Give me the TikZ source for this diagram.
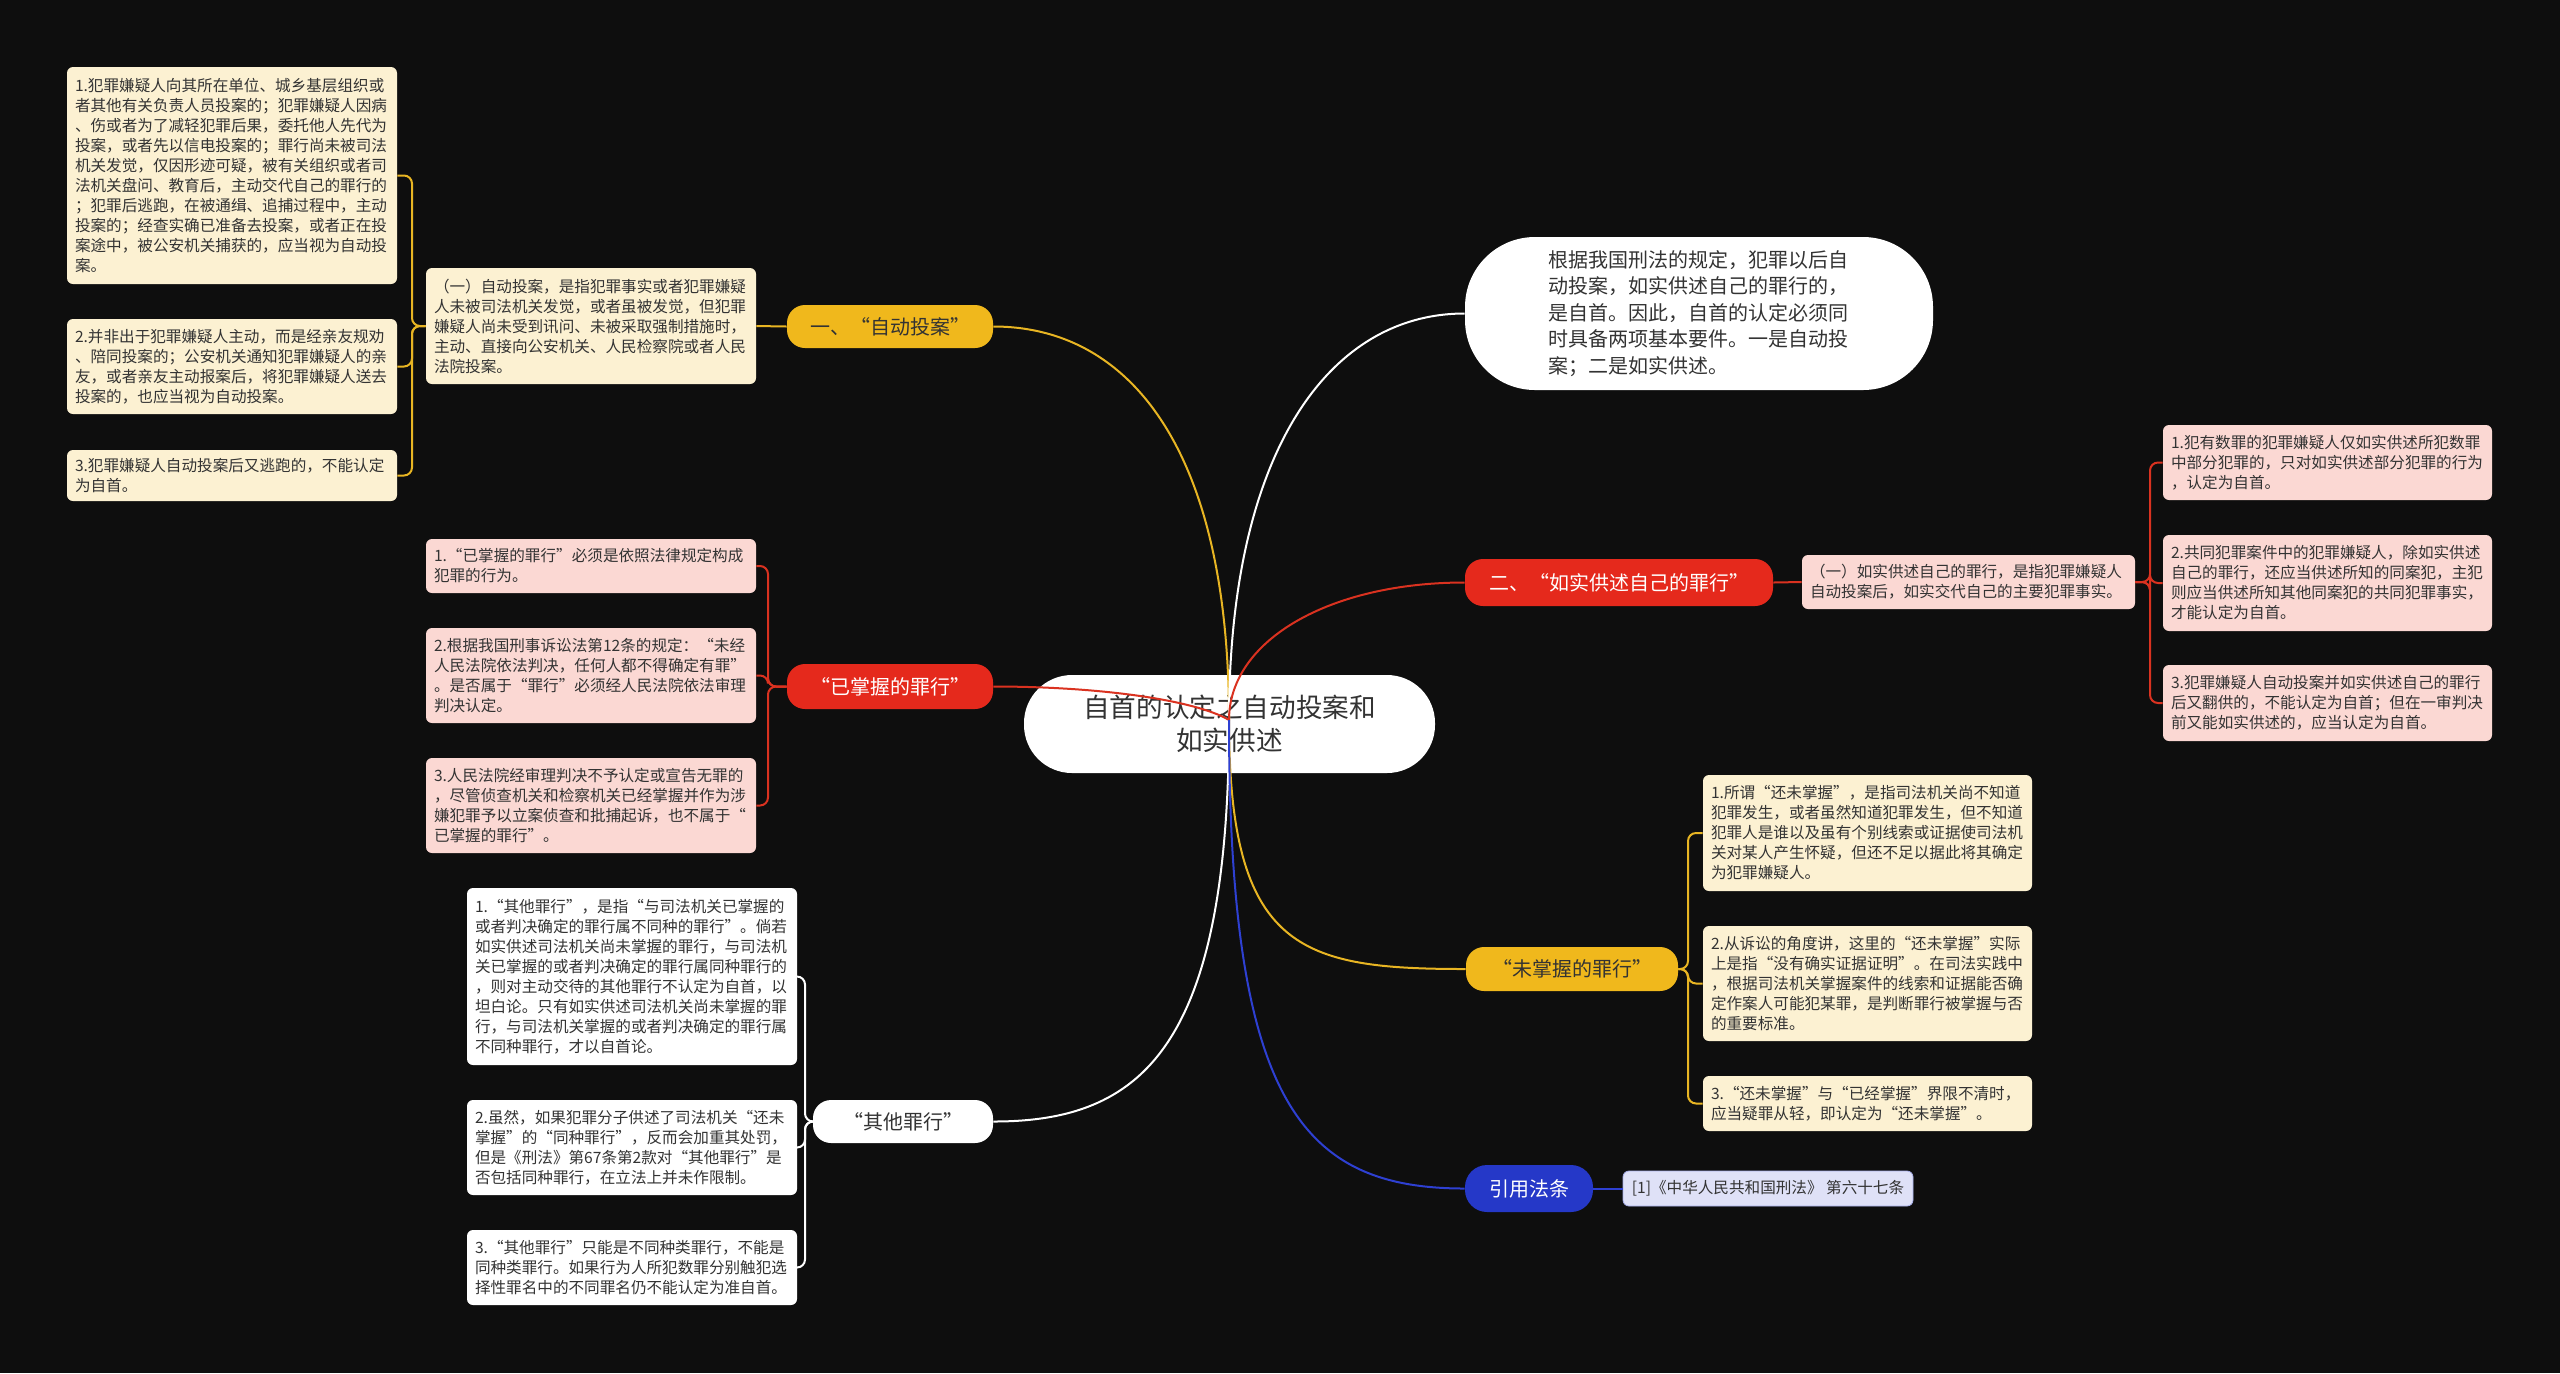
\documentclass[tikz,border=0pt]{standalone}
\usepackage{fontspec}
\setmainfont{Noto Sans CJK SC}
\definecolor{bg}{HTML}{0E0E0E}
\definecolor{cream}{HTML}{FCF1D2}
\definecolor{pinkb}{HTML}{FBD8D3}
\definecolor{lav}{HTML}{DFE1F7}
\definecolor{txt}{HTML}{333333}
\definecolor{ynode}{HTML}{F0B81C}
\definecolor{yline}{HTML}{E8B523}
\definecolor{rnode}{HTML}{E5291C}
\definecolor{rline}{HTML}{DA3220}
\definecolor{bnode}{HTML}{2538C8}
\definecolor{bline}{HTML}{2E40D2}
\newcommand\leaffont{\fontsize{7.8}{10}\selectfont}
\newcommand\branchfont{\fontsize{10}{12}\selectfont}
\begin{document}
\begin{tikzpicture}[x=0.5pt,y=-0.5pt,
  leaf/.style={rounded corners=3pt, align=left, inner xsep=4pt, inner ysep=0pt, font=\leaffont, text=txt, text width=157pt},
  creambox/.style={leaf, fill=cream},
  pinkbox/.style={leaf, fill=pinkb},
  whitebox/.style={leaf, fill=white},
  branch/.style={rounded corners=9pt, inner sep=0pt, font=\branchfont, align=center},
  yl/.style={draw=yline, line width=1pt},
  rl/.style={draw=rline, line width=1pt},
  wl/.style={draw=white, line width=1pt},
  bl/.style={draw=bline, line width=1pt},
  br/.style={rounded corners=4pt}
]
\fill[bg] (0,0) rectangle (2560,1373);

% center
\node[fill=white, rounded corners=24pt, minimum width=205.5pt, minimum height=49pt, align=center, text=txt,
  font=\fontsize{13.3}{16.5}\selectfont] (C) at (1229.5,724) {自首的认定之自动投案和\\如实供述};

% top right note
\node[fill=white, rounded corners=35pt, minimum width=234pt, minimum height=76.5pt, align=left, text width=151pt,
  text=txt, font=\fontsize{10}{13.3}\selectfont] (T) at (1699,313.5)
  {根据我国刑法的规定，犯罪以后自\\动投案，如实供述自己的罪行的，\\是自首。因此，自首的认定必须同\\时具备两项基本要件。一是自动投\\案；二是如实供述。};

% branch nodes
\node[branch, fill=ynode, text=txt, minimum width=103pt, minimum height=21.5pt] (B1) at (890,326.5) {一、“自动投案”};
\node[branch, fill=rnode, text=white, minimum width=103pt, minimum height=22.5pt] (B2) at (890,686.5) {“已掌握的罪行”};
\node[branch, fill=white, text=txt, minimum width=90pt, minimum height=21.5pt] (B3) at (903,1121.5) {“其他罪行”};
\node[branch, fill=rnode, text=white, minimum width=154pt, minimum height=23.5pt] (B4) at (1619,582.5) {二、“如实供述自己的罪行”};
\node[branch, fill=ynode, text=txt, minimum width=106pt, minimum height=22pt] (B5) at (1572,969) {“未掌握的罪行”};
\node[branch, fill=bnode, text=white, minimum width=64pt, minimum height=23.5pt, rounded corners=11pt] (B6) at (1529,1188.5) {引用法条};

% left yellow
\node[creambox, minimum height=108.5pt] (L1) at (232,175.5) {1.犯罪嫌疑人向其所在单位、城乡基层组织或\\者其他有关负责人员投案的；犯罪嫌疑人因病\\、伤或者为了减轻犯罪后果，委托他人先代为\\投案，或者先以信电投案的；罪行尚未被司法\\机关发觉，仅因形迹可疑，被有关组织或者司\\法机关盘问、教育后，主动交代自己的罪行的\\；犯罪后逃跑，在被通缉、追捕过程中，主动\\投案的；经查实确已准备去投案，或者正在投\\案途中，被公安机关捕获的，应当视为自动投\\案。};
\node[creambox, minimum height=47.5pt] (L2) at (232,366.5) {2.并非出于犯罪嫌疑人主动，而是经亲友规劝\\、陪同投案的；公安机关通知犯罪嫌疑人的亲\\友，或者亲友主动报案后，将犯罪嫌疑人送去\\投案的，也应当视为自动投案。};
\node[creambox, minimum height=25.5pt] (L3) at (232,475.5) {3.犯罪嫌疑人自动投案后又逃跑的，不能认定\\为自首。};
\node[creambox, minimum height=58pt] (Y1) at (591,326) {（一）自动投案，是指犯罪事实或者犯罪嫌疑\\人未被司法机关发觉，或者虽被发觉，但犯罪\\嫌疑人尚未受到讯问、未被采取强制措施时，\\主动、直接向公安机关、人民检察院或者人民\\法院投案。};

% left red
\node[pinkbox, minimum height=27pt] (R1) at (591,566) {1.“已掌握的罪行”必须是依照法律规定构成\\犯罪的行为。};
\node[pinkbox, minimum height=47.5pt] (R2) at (591,675.5) {2.根据我国刑事诉讼法第12条的规定：“未经\\人民法院依法判决，任何人都不得确定有罪”\\。是否属于“罪行”必须经人民法院依法审理\\判决认定。};
\node[pinkbox, minimum height=47.5pt] (R3) at (591,805.5) {3.人民法院经审理判决不予认定或宣告无罪的\\，尽管侦查机关和检察机关已经掌握并作为涉\\嫌犯罪予以立案侦查和批捕起诉，也不属于“\\已掌握的罪行”。};

% left white
\node[whitebox, minimum height=88.5pt] (W1) at (632,976.5) {1.“其他罪行”，是指“与司法机关已掌握的\\或者判决确定的罪行属不同种的罪行”。倘若\\如实供述司法机关尚未掌握的罪行，与司法机\\关已掌握的或者判决确定的罪行属同种罪行的\\，则对主动交待的其他罪行不认定为自首，以\\坦白论。只有如实供述司法机关尚未掌握的罪\\行，与司法机关掌握的或者判决确定的罪行属\\不同种罪行，才以自首论。};
\node[whitebox, minimum height=47.5pt] (W2) at (632,1147.5) {2.虽然，如果犯罪分子供述了司法机关“还未\\掌握”的“同种罪行”，反而会加重其处罚，\\但是《刑法》第67条第2款对“其他罪行”是\\否包括同种罪行，在立法上并未作限制。};
\node[whitebox, minimum height=37.5pt] (W3) at (632,1267.5) {3.“其他罪行”只能是不同种类罪行，不能是\\同种类罪行。如果行为人所犯数罪分别触犯选\\择性罪名中的不同罪名仍不能认定为准自首。};

% right red
\node[pinkbox, minimum height=27pt, text width=158.5pt] (P0) at (1968.5,582) {（一）如实供述自己的罪行，是指犯罪嫌疑人\\自动投案后，如实交代自己的主要犯罪事实。};
\node[pinkbox, minimum height=37.5pt, text width=156.5pt] (PR1) at (2327.5,462.5) {1.犯有数罪的犯罪嫌疑人仅如实供述所犯数罪\\中部分犯罪的，只对如实供述部分犯罪的行为\\，认定为自首。};
\node[pinkbox, minimum height=48pt, text width=156.5pt] (PR2) at (2327.5,583) {2.共同犯罪案件中的犯罪嫌疑人，除如实供述\\自己的罪行，还应当供述所知的同案犯，主犯\\则应当供述所知其他同案犯的共同犯罪事实，\\才能认定为自首。};
\node[pinkbox, minimum height=38pt, text width=156.5pt] (PR3) at (2327.5,703) {3.犯罪嫌疑人自动投案并如实供述自己的罪行\\后又翻供的，不能认定为自首；但在一审判决\\前又能如实供述的，应当认定为自首。};

% right yellow
\node[creambox, minimum height=58pt, text width=156.5pt] (C1) at (1867.5,833) {1.所谓“还未掌握”，是指司法机关尚不知道\\犯罪发生，或者虽然知道犯罪发生，但不知道\\犯罪人是谁以及虽有个别线索或证据使司法机\\关对某人产生怀疑，但还不足以据此将其确定\\为犯罪嫌疑人。};
\node[creambox, minimum height=57.5pt, text width=156.5pt] (C2) at (1867.5,983.5) {2.从诉讼的角度讲，这里的“还未掌握”实际\\上是指“没有确实证据证明”。在司法实践中\\，根据司法机关掌握案件的线索和证据能否确\\定作案人可能犯某罪，是判断罪行被掌握与否\\的重要标准。};
\node[creambox, minimum height=27.5pt, text width=156.5pt] (C3) at (1867.5,1103.5) {3.“还未掌握”与“已经掌握”界限不清时，\\应当疑罪从轻，即认定为“还未掌握”。};

% blue leaf
\node[fill=lav, draw=lav!70!bnode, line width=0.4pt, rounded corners=3pt, minimum width=145pt, minimum height=17.5pt,
  inner sep=0pt, font=\leaffont, text=txt] (LV) at (1768,1188.5) {[1]《中华人民共和国刑法》~第六十七条};

% main connectors (drawn over the centre node)
\coordinate (o) at (1229,720);
\draw[yl] (o) .. controls (1229,450) and (1130,326.5) .. (B1.east);
\draw[wl] (o) .. controls (1229,450) and (1330,313.5) .. (T.west);
\draw[rl] (o) .. controls (1229,640) and (1330,582.5) .. (B4.west);
\draw[rl] (o) .. controls (1195,700) and (1100,686.5) .. (B2.east);
\draw[wl] (o) .. controls (1229,1050) and (1140,1121.5) .. (B3.east);
\draw[yl] (o) .. controls (1229,950) and (1300,969) .. (B5.west);
\draw[bl] (o) .. controls (1229,1100) and (1300,1188.5) .. (B6.west);

% sub connectors
\draw[yl] (B1.west) -- (Y1.east);
\draw[yl, br] (Y1.west) -- (412,326) |- (L1.east);
\draw[yl, br] (Y1.west) -- (412,326) |- (L2.east);
\draw[yl, br] (Y1.west) -- (412,326) |- (L3.east);

\draw[rl, br] (B2.west) -- (768,686.5) |- (R1.east);
\draw[rl, br] (B2.west) -- (768,686.5) |- (R2.east);
\draw[rl, br] (B2.west) -- (768,686.5) |- (R3.east);

\draw[wl, br] (B3.west) -- (805,1121.5) |- (W1.east);
\draw[wl, br] (B3.west) -- (805,1121.5) |- (W2.east);
\draw[wl, br] (B3.west) -- (805,1121.5) |- (W3.east);

\draw[rl] (B4.east) -- (P0.west);
\draw[rl, br] (P0.east) -- (2150,582) |- (PR1.west);
\draw[rl, br] (P0.east) -- (2150,582) |- (PR2.west);
\draw[rl, br] (P0.east) -- (2150,582) |- (PR3.west);

\draw[yl, br] (B5.east) -- (1688,969) |- (C1.west);
\draw[yl, br] (B5.east) -- (1688,969) |- (C2.west);
\draw[yl, br] (B5.east) -- (1688,969) |- (C3.west);

\draw[bl] (B6.east) -- (LV.west);
\end{tikzpicture}
\end{document}
